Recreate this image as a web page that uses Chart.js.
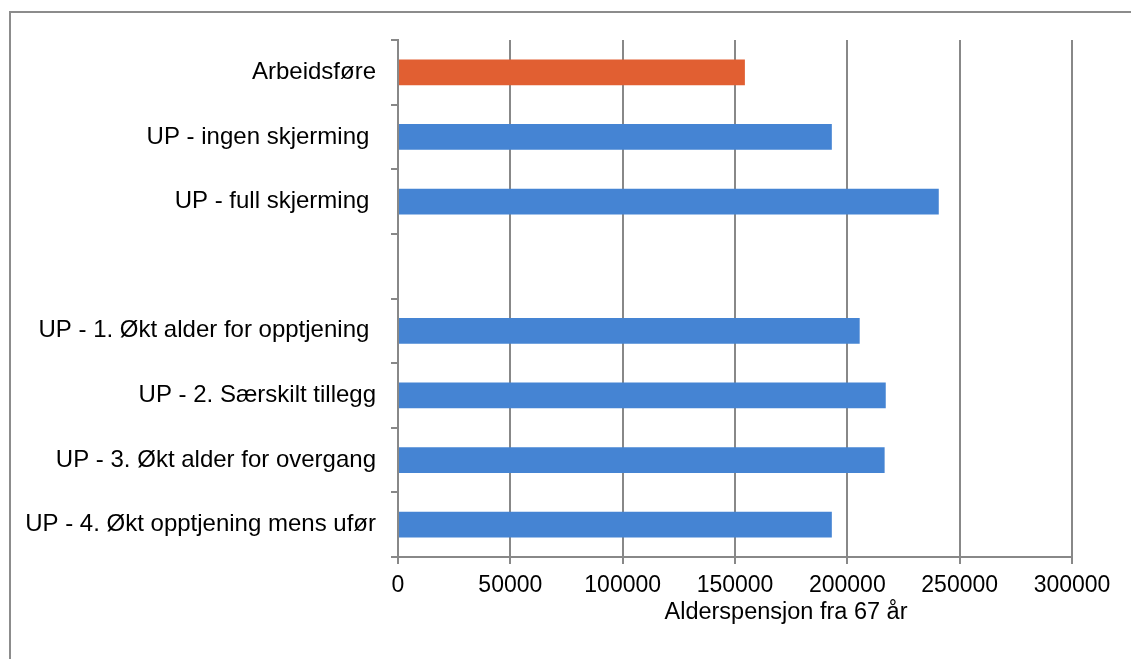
<!DOCTYPE html>
<html lang="no">
<head>
<meta charset="utf-8">
<title>Alderspensjon fra 67 år</title>
<script src="https://cdn.jsdelivr.net/npm/chart.js@4/dist/chart.umd.min.js"></script>
<style>
  html, body { margin: 0; padding: 0; background: #fff; }
  #wrap { position: relative; width: 1131px; height: 659px; overflow: hidden; }
  #frame {
    position: absolute; left: 9px; top: 11px; width: 1200px; height: 700px;
    border-left: 2px solid #8c8c8c; border-top: 2px solid #8c8c8c;
    box-sizing: border-box;
  }
  #pensjonChart { position: absolute; left: 0; top: 0; }
</style>
</head>
<body>
<div id="wrap">
  <div id="frame"></div>
  <canvas id="pensjonChart" width="1131" height="659"></canvas>
</div>
<script>
// Kategorier (tom rad skiller de to gruppene)
const kategorier = [
  'Arbeidsføre',
  'UP - ingen skjerming ',
  'UP - full skjerming ',
  '',
  'UP - 1. Økt alder for opptjening ',
  'UP - 2. Særskilt tillegg',
  'UP - 3. Økt alder for overgang',
  'UP - 4. Økt opptjening mens ufør'
];

// Alderspensjon fra 67 år (kr)
const pensjon = [154400, 193100, 240700, null, 205500, 217100, 216600, 193100];

const aksetittel = 'Alderspensjon fra 67 år';
const xMin = 0;
const xMax = 300000;
const xSteg = 50000;

const ORANSJE = '#E15F32';
const BLAA = '#4584D3';
const GRAA = '#888888';
const FONT = "'Liberation Sans', Arial, sans-serif";

const farger = kategorier.map((k, i) => (i === 0 ? ORANSJE : BLAA));

// Aksetittel under x-aksen, litt til høyre for midten som i Excel
const aksetittelPlugin = {
  id: 'aksetittel',
  afterDraw(chart) {
    const { ctx, chartArea } = chart;
    ctx.save();
    ctx.font = '23.5px ' + FONT;
    ctx.fillStyle = '#000';
    ctx.textAlign = 'center';
    ctx.textBaseline = 'middle';
    const x = (chartArea.left + chartArea.right) / 2 + 51;
    ctx.fillText(aksetittel, x, chartArea.bottom + 56);
    ctx.restore();
  }
};

const ctx = document.getElementById('pensjonChart').getContext('2d');

new Chart(ctx, {
  type: 'bar',
  data: {
    labels: kategorier,
    datasets: [{
      data: pensjon,
      backgroundColor: farger,
      borderWidth: 0,
      barPercentage: 0.4,
      categoryPercentage: 1.0
    }]
  },
  options: {
    indexAxis: 'y',
    responsive: false,
    animation: false,
    events: [],
    layout: {
      padding: { left: 0, right: 59, top: 40, bottom: 52 }
    },
    plugins: {
      legend: { display: false },
      tooltip: { enabled: false },
      title: { display: false }
    },
    scales: {
      x: {
        min: xMin,
        max: xMax,
        afterFit(scale) { scale.height = 50; },
        ticks: {
          stepSize: xSteg,
          maxRotation: 0,
          autoSkip: false,
          padding: 8,
          color: '#000',
          font: { family: FONT, size: 23 },
          callback: (v) => String(v)
        },
        grid: {
          color: GRAA,
          lineWidth: 2,
          drawTicks: true,
          tickLength: 7,
          tickColor: GRAA
        },
        border: { display: true, color: GRAA, width: 2 }
      },
      y: {
        offset: true,
        afterFit(scale) { scale.width = 398; },
        ticks: {
          autoSkip: false,
          padding: 15,
          color: '#000',
          font: { family: FONT, size: 24 }
        },
        grid: {
          offset: true,
          drawOnChartArea: false,
          drawTicks: true,
          tickLength: 7,
          color: GRAA,
          lineWidth: 2
        },
        border: { display: true, color: GRAA, width: 2 }
      }
    }
  },
  plugins: [aksetittelPlugin]
});
</script>
</body>
</html>
